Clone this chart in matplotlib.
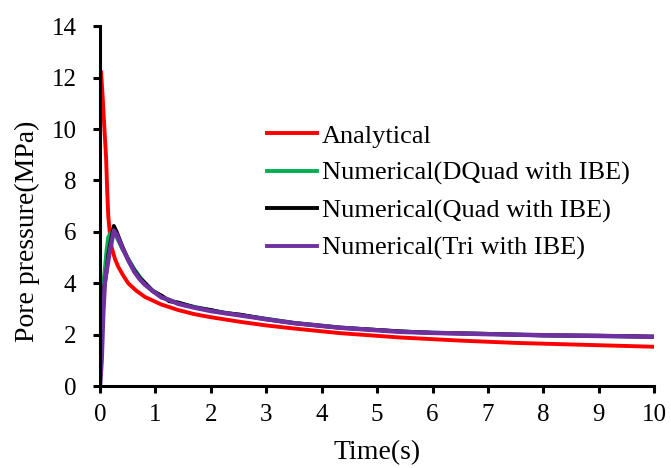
import matplotlib
matplotlib.use("Agg")
from matplotlib import pyplot as plt

plt.rcParams['font.family'] = ['Liberation Serif', 'DejaVu Serif']

# analytical solution
t_ana = [0.02, 0.05, 0.08, 0.11, 0.13, 0.15, 0.18, 0.21, 0.27, 0.33, 0.42, 0.51, 0.65, 0.81,
         1.1, 1.41, 1.7, 2.0, 2.53, 3.0, 3.5, 4.33, 5.42, 6.5, 7.5, 8.5, 10]
p_ana = [12.2, 11.2, 10.0, 8.9, 7.6, 6.6, 5.9, 5.4, 4.95, 4.64, 4.3, 4.0, 3.72, 3.47,
         3.18, 2.96, 2.8, 2.68, 2.5, 2.36, 2.24, 2.06, 1.89, 1.77, 1.68, 1.62, 1.53]

# numerical results
t_num = [0.0, 0.03, 0.06, 0.09, 0.12, 0.15, 0.19, 0.25, 0.3, 0.4, 0.51, 0.62, 0.72, 0.81, 0.95,
         1.11, 1.25, 1.41, 1.71, 2.0, 2.25, 2.53, 3.0, 3.5, 4.33, 5.42, 6.0, 7.0, 8.0, 9.0, 10]
p_dquad = [0.0, 2.8, 4.0, 4.6, 5.3, 5.8, 5.95, 6.0, 5.8, 5.35, 4.95, 4.55, 4.25, 4.0, 3.72,
           3.5, 3.35, 3.24, 3.08, 2.95, 2.86, 2.77, 2.62, 2.46, 2.28, 2.12, 2.08, 2.03, 1.98, 1.95, 1.92]
p_quad = [0.0, 2.4, 3.7, 4.0, 4.5, 5.1, 5.6, 6.23, 6.0, 5.45, 4.9, 4.5, 4.2, 4.02, 3.7,
          3.52, 3.3, 3.25, 3.06, 2.96, 2.84, 2.78, 2.6, 2.45, 2.27, 2.13, 2.07, 2.03, 1.97, 1.96, 1.92]
p_tri = [0.0, 1.0, 2.9, 4.1, 4.5, 4.9, 5.4, 6.05, 5.9, 5.4, 4.9, 4.45, 4.15, 3.95, 3.7,
         3.45, 3.35, 3.2, 3.05, 2.92, 2.84, 2.75, 2.6, 2.45, 2.27, 2.11, 2.07, 2.02, 1.98, 1.95, 1.92]

fig = plt.figure(figsize=(6.71, 4.68), dpi=100)
ax = fig.add_axes([0.149, 0.175, 0.826, 0.769])

ax.plot(t_ana, p_ana, color='#ff0000', lw=2.8, label='Analytical')
ax.plot(t_num, p_dquad, color='#00b050', lw=2.8, label='Numerical(DQuad with IBE)')
ax.plot(t_num, p_quad, color='black', lw=2.8, label='Numerical(Quad with IBE)')
ax.plot(t_num, p_tri, color='#7030a0', lw=3.2, label='Numerical(Tri with IBE)')

ax.set_xlim(0, 10)
ax.set_ylim(0, 14)
ax.set_xticks(range(0, 11))
ax.set_yticks(range(0, 15, 2))
for s in ['top', 'right']:
    ax.spines[s].set_visible(False)
for s in ['left', 'bottom']:
    ax.spines[s].set_linewidth(2.2)
ax.tick_params(axis='both', direction='out', width=2.2, length=5, labelsize=18)
ax.tick_params(axis='y', pad=12)
ax.tick_params(axis='x', pad=8)
ax.set_xlabel('Time(s)', fontsize=20, labelpad=10)
ax.set_ylabel('Pore pressure(MPa)', fontsize=20)
ax.yaxis.set_label_coords(-0.108, 0.43)

leg = ax.legend(loc='upper left', bbox_to_anchor=(0.301, 0.728), frameon=False, fontsize=19,
                handlelength=1.9, handletextpad=0.2, labelspacing=0.52, borderaxespad=0,
                borderpad=0)
for line in leg.get_lines():
    line.set_linewidth(2.8)

fig.savefig('out.png', dpi=100)
